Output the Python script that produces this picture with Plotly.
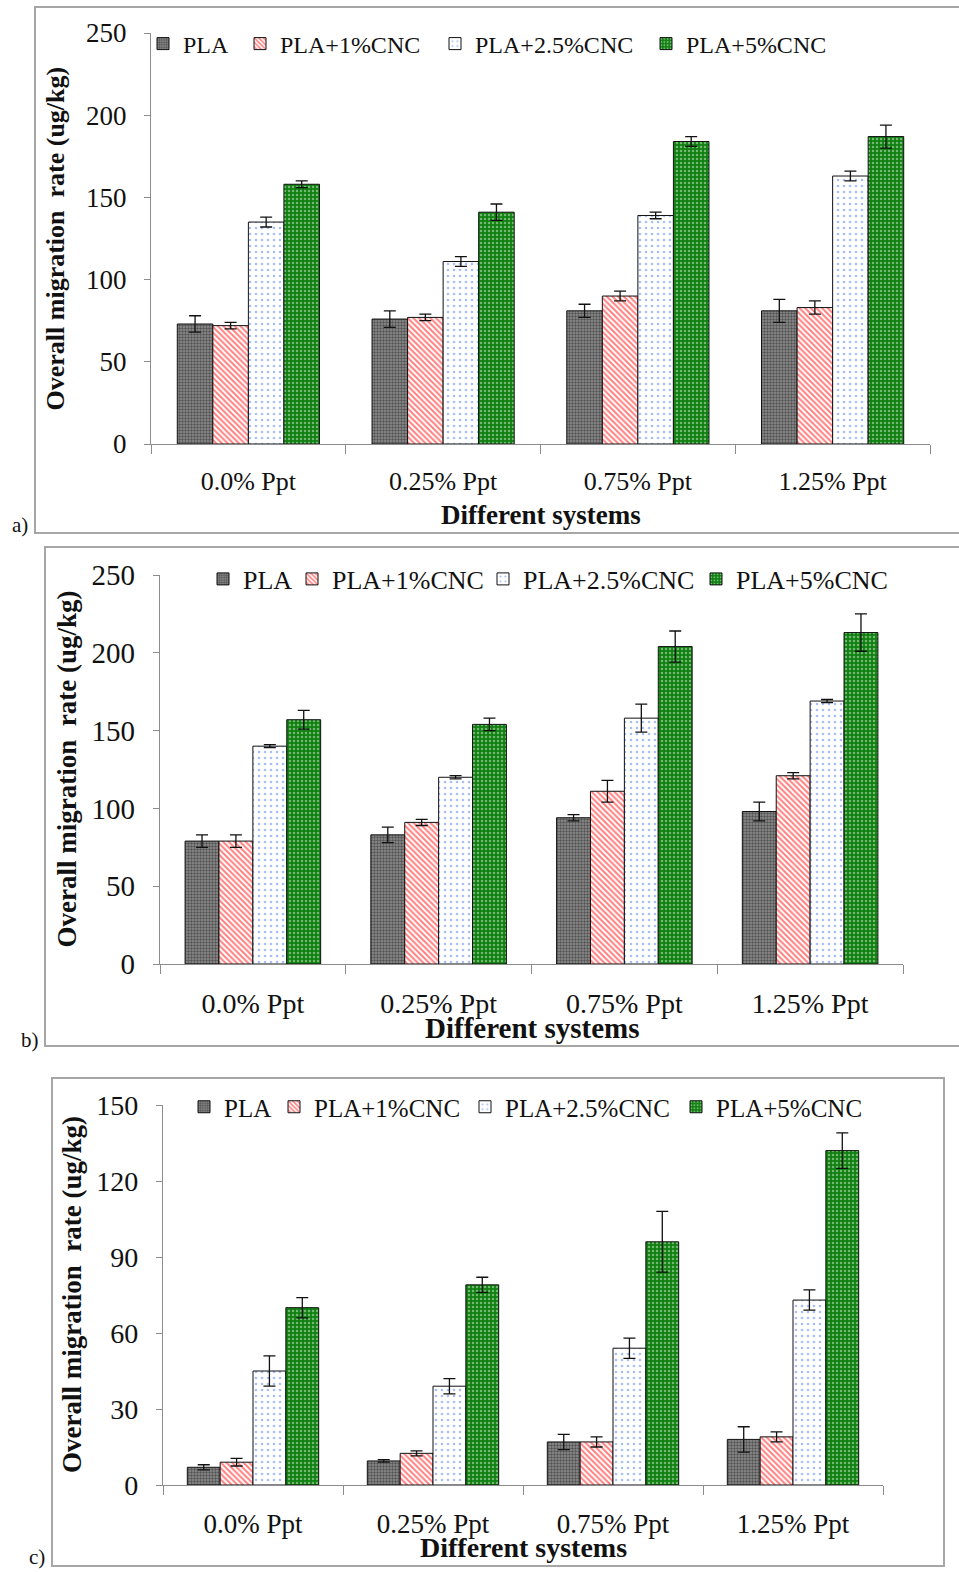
import plotly.graph_objects as go

W, H = 959, 1572

categories = ["0.0% Ppt", "0.25% Ppt", "0.75% Ppt", "1.25% Ppt"]
series_names = ["PLA", "PLA+1%CNC", "PLA+2.5%CNC", "PLA+5%CNC"]

# Panel a
a_vals = {
    "PLA": [73, 76, 81, 81],
    "PLA+1%CNC": [72, 77, 90, 83],
    "PLA+2.5%CNC": [135, 111, 139, 163],
    "PLA+5%CNC": [158, 141, 184, 187],
}
a_err = {
    "PLA": [5, 5, 4, 7],
    "PLA+1%CNC": [2, 2, 3, 4],
    "PLA+2.5%CNC": [3, 3, 2, 3],
    "PLA+5%CNC": [2, 5, 3, 7],
}
# Panel b
b_vals = {
    "PLA": [79, 83, 94, 98],
    "PLA+1%CNC": [79, 91, 111, 121],
    "PLA+2.5%CNC": [140, 120, 158, 169],
    "PLA+5%CNC": [157, 154, 204, 213],
}
b_err = {
    "PLA": [4, 5, 2, 6],
    "PLA+1%CNC": [4, 2, 7, 2],
    "PLA+2.5%CNC": [1, 1, 9, 1],
    "PLA+5%CNC": [6, 4, 10, 12],
}
# Panel c
c_vals = {
    "PLA": [7, 9.5, 17, 18],
    "PLA+1%CNC": [9, 12.5, 17, 19],
    "PLA+2.5%CNC": [45, 39, 54, 73],
    "PLA+5%CNC": [70, 79, 96, 132],
}
c_err = {
    "PLA": [1, 0.5, 3, 5],
    "PLA+1%CNC": [1.5, 1, 2, 2],
    "PLA+2.5%CNC": [6, 3, 4, 4],
    "PLA+5%CNC": [4, 3, 12, 7],
}

y_ranges = [[0, 250], [0, 250], [0, 150]]
y_dticks = [50, 50, 30]

styles = {
    "PLA": dict(color="#6e6e6e", pattern=dict(shape=".", fgcolor="#151515", bgcolor="#909090", size=3, solidity=0.5)),
    "PLA+1%CNC": dict(color="white", pattern=dict(shape="\\", fgcolor="#ff0000", bgcolor="white", size=4, solidity=0.5)),
    "PLA+2.5%CNC": dict(color="white", pattern=dict(shape=".", fgcolor="#4f7fe8", bgcolor="white", size=6, solidity=0.15)),
    "PLA+5%CNC": dict(color="#1a8c1a", pattern=dict(shape=".", fgcolor="#d8f0d8", bgcolor="#108010", size=4, solidity=0.3)),
}

FONT = "Liberation Serif"
INK = "#111111"

def px_x(p):
    return p / W

def px_y(p):
    return 1 - p / H

panels = [
    dict(vals=a_vals, err=a_err, xd=[151, 930], yd=[33, 444], yfs=27, xfs=26, lfs=24,
         ytfs=26, xtfs=27, ytitle_x=55, xtitle_y=515, legend_y=44,
         legend_text_x=[180, 277, 472, 683], label="a)", label_xy=(20, 525)),
    dict(vals=b_vals, err=b_err, xd=[160, 903], yd=[575, 964], yfs=29, xfs=28, lfs=26,
         ytfs=27, xtfs=29, ytitle_x=66, xtitle_y=1028, legend_y=579,
         legend_text_x=[240, 329, 520, 733], label="b)", label_xy=(30, 1040)),
    dict(vals=c_vals, err=c_err, xd=[163, 883], yd=[1105, 1485], yfs=28, xfs=27, lfs=25,
         ytfs=27, xtfs=28, ytitle_x=72, xtitle_y=1547, legend_y=1107,
         legend_text_x=[221, 311, 502, 713], label="c)", label_xy=(37, 1557)),
]

fig = go.Figure()
layout = {}
annotations = []
legend_idx = 0

for i, p in enumerate(panels):
    ax = "" if i == 0 else str(i + 1)
    for j, name in enumerate(series_names):
        legend_idx += 1
        lkey = "legend" if legend_idx == 1 else "legend%d" % legend_idx
        st = styles[name]
        fig.add_trace(go.Bar(
            x=categories, y=p["vals"][name], name=name,
            xaxis="x" + ax, yaxis="y" + ax,
            legend=lkey, showlegend=True,
            marker=dict(color=st["color"], pattern=st["pattern"],
                        line=dict(color=INK, width=1)),
            error_y=dict(type="data", array=p["err"][name], color=INK,
                         thickness=1.3, width=6),
        ))
        layout[lkey] = dict(
            orientation="h", x=px_x(p["legend_text_x"][j] - 37), y=px_y(p["legend_y"]),
            xanchor="left", yanchor="middle", visible=True,
            font=dict(family=FONT, size=p["lfs"], color=INK),
            bgcolor="rgba(0,0,0,0)", itemwidth=30,
        )
    ydom = [px_y(p["yd"][1]), px_y(p["yd"][0])]
    xdom = [px_x(p["xd"][0]), px_x(p["xd"][1])]
    layout["xaxis" + ax] = dict(
        domain=xdom, anchor="y" + ax, type="category", automargin=False,
        showline=True, linecolor="#8c8c8c", linewidth=1.3,
        ticks="outside", tickson="boundaries", ticklen=9, tickcolor="#8c8c8c",
        tickfont=dict(family=FONT, size=p["xfs"], color=INK),
        ticklabelstandoff=14, showgrid=False, zeroline=False,
    )
    layout["yaxis" + ax] = dict(
        domain=ydom, anchor="x" + ax, range=y_ranges[i], dtick=y_dticks[i],
        automargin=False,
        showline=True, linecolor="#8c8c8c", linewidth=1.3,
        ticks="outside", ticklen=6, tickcolor="#8c8c8c",
        tickfont=dict(family=FONT, size=p["yfs"], color=INK),
        ticklabelstandoff=12, showgrid=False, zeroline=False,
    )
    cy = (p["yd"][0] + p["yd"][1]) / 2
    annotations.append(dict(
        text="<b>Overall migration  rate (ug/kg)</b>", textangle=-90,
        x=px_x(p["ytitle_x"]), y=px_y(cy), xref="paper", yref="paper",
        xanchor="center", yanchor="middle",
        showarrow=False, font=dict(family=FONT, size=p["ytfs"], color=INK),
    ))
    cx = (p["xd"][0] + p["xd"][1]) / 2
    annotations.append(dict(
        text="<b>Different systems</b>",
        x=px_x(cx), y=px_y(p["xtitle_y"]), xref="paper", yref="paper",
        xanchor="center", yanchor="middle",
        showarrow=False, font=dict(family=FONT, size=p["xtfs"], color=INK),
    ))
    annotations.append(dict(
        text=p["label"], x=px_x(p["label_xy"][0]), y=px_y(p["label_xy"][1]),
        xref="paper", yref="paper", xanchor="center", yanchor="middle",
        showarrow=False, font=dict(family=FONT, size=21, color=INK),
    ))

boxes = [(35, 7, 962, 533), (45, 547, 962, 1046), (52, 1078, 944, 1566)]
shapes = []
for (x0, y0, x1, y1) in boxes:
    shapes.append(dict(type="rect", xref="paper", yref="paper",
                       x0=px_x(x0), x1=px_x(x1), y0=px_y(y1), y1=px_y(y0),
                       line=dict(color="#a6a6a6", width=2), fillcolor="rgba(0,0,0,0)"))

fig.update_layout(
    width=W, height=H, margin=dict(l=0, r=0, t=0, b=0, autoexpand=False),
    paper_bgcolor="white", plot_bgcolor="white", showlegend=True,
    barmode="group", bargap=0.27, bargroupgap=0,
    annotations=annotations, shapes=shapes,
    **layout,
)

fig.write_html("out.html")
